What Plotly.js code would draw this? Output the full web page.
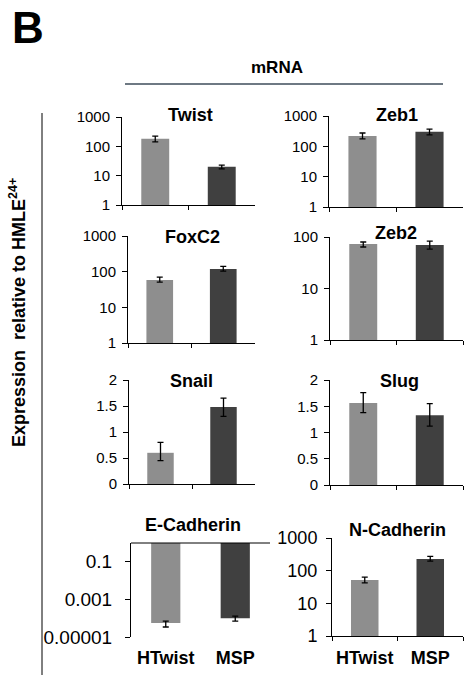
<!DOCTYPE html>
<html><head><meta charset="utf-8">
<script src="https://cdn.plot.ly/plotly-3.0.1.min.js"></script>
<style>html,body{margin:0;padding:0;background:#fff}#c{width:466px;height:675px}</style>
</head><body><div id="c"></div>
<script>
// ---- data ----
const groups = ["HTwist", "MSP"];
const genes = ["Twist", "Zeb1", "FoxC2", "Zeb2", "Snail", "Slug", "E-Cadherin", "N-Cadherin"];
const twistVal = [180, 20],   twistLo = [141, 17],     twistHi = [224, 23];
const zeb1Val = [220, 300],   zeb1Lo = [175, 240],     zeb1Hi = [275, 370];
const foxc2Val = [58, 118],   foxc2Lo = [51, 104],     foxc2Hi = [70, 140];
const zeb2Val = [73, 70],     zeb2Lo = [64, 58],       zeb2Hi = [80, 83];
const snailVal = [0.6, 1.48], snailLo = [0.45, 1.3],   snailHi = [0.8, 1.65];
const slugVal = [1.56, 1.33], slugLo = [1.38, 1.12],   slugHi = [1.76, 1.55];
const ecadVal = [5.6e-5, 1.0e-4], ecadLo = [3.4e-5, 7e-5], ecadHi = [7e-5, 1.3e-4];
const ncadVal = [52, 226],    ncadLo = [42, 196],      ncadHi = [63, 275];
const logTicks = [1, 10, 100, 1000], logText = ["1", "10", "100", "1000"];
const linTicks = [0, 0.5, 1, 1.5, 2], linText = ["0", "0.5", "1", "1.5", "2"];
const ecadTicks = [1e-5, 1e-3, 0.1], ecadText = ["0.00001", "0.001", "0.1"];
const colors = ["#8e8e8e", "#404040"];

// ---- layout helpers ----
const W = 466, H = 675;
const px = v => v / W, py = v => 1 - v / H;
const FONT = "Liberation Sans, Arial, sans-serif";

const panels = [
  {val: twistVal, lo: twistLo, hi: twistHi, dx: [122, 255], dy: [117, 205], log: true, range: [0, 3], tv: logTicks, tt: logText},
  {val: zeb1Val, lo: zeb1Lo, hi: zeb1Hi, dx: [329, 463], dy: [116, 207], log: true, range: [0, 3], tv: logTicks, tt: logText},
  {val: foxc2Val, lo: foxc2Lo, hi: foxc2Hi, dx: [128, 255], dy: [236, 343], log: true, range: [0, 3], tv: logTicks, tt: logText},
  {val: zeb2Val, lo: zeb2Lo, hi: zeb2Hi, dx: [330, 463], dy: [237, 340], log: true, range: [0, 2], tv: logTicks, tt: logText},
  {val: snailVal, lo: snailLo, hi: snailHi, dx: [129, 255], dy: [380, 484], log: false, range: [0, 2], tv: linTicks, tt: linText},
  {val: slugVal, lo: slugLo, hi: slugHi, dx: [330, 463], dy: [380, 485], log: false, range: [0, 2], tv: linTicks, tt: linText},
  {val: ecadVal, lo: ecadLo, hi: ecadHi, dx: [131, 270], dy: [543, 637], log: true, range: [-5, 0], tv: ecadTicks, tt: ecadText, hang: true, labels: true, tsize: 19, tstand: 9},
  {val: ncadVal, lo: ncadLo, hi: ncadHi, dx: [332, 463], dy: [538, 636], log: true, range: [0, 3], tv: logTicks, tt: logText, labels: true, tsize: 18, tstand: 5}
];
const titlePos = [[190, 115], [397, 115], [192, 237], [396, 233], [191, 381], [399, 381], [193, 525], [397, 530]];

const traces = [];
const layout = {
  width: W, height: H, margin: {l: 0, r: 0, t: 0, b: 0},
  paper_bgcolor: "#fff", plot_bgcolor: "rgba(0,0,0,0)",
  showlegend: false, bargap: 0.58,
  font: {family: FONT, color: "#000"},
  annotations: [], shapes: []
};

panels.forEach((p, i) => {
  const n = i + 1, xs = "x" + n, ys = "y" + n;
  traces.push({
    type: "bar", x: groups,
    y: p.hang ? p.val.map(v => v - 1) : p.val,
    base: p.hang ? [1, 1] : undefined,
    marker: {color: colors, line: {width: 0}},
    error_y: {type: "data", symmetric: false,
      array: p.hi.map((h, k) => h - p.val[k]),
      arrayminus: p.lo.map((l, k) => p.val[k] - l),
      color: "#000", thickness: 1.3, width: 3},
    xaxis: xs, yaxis: ys, hoverinfo: "none"
  });
  const xk = "xaxis" + (n === 1 ? "" : n), yk = "yaxis" + (n === 1 ? "" : n);
  layout[xk] = {
    domain: [px(p.dx[0]), px(p.dx[1])], anchor: ys, type: "category",
    range: [-0.5, 1.5], fixedrange: true,
    showline: !p.hang, linecolor: "#000", linewidth: 1,
    ticks: p.hang ? "" : "outside", tickson: "boundaries", ticklen: 4, tickcolor: "#000",
    showticklabels: !!p.labels, ticklabelstandoff: p.hang ? 8 : 5, tickangle: 0,
    tickfont: {family: FONT, size: 18, color: "#000", weight: "bold"},
    showgrid: false, zeroline: false
  };
  layout[yk] = {
    domain: [py(p.dy[1]), py(p.dy[0])], anchor: xs,
    type: p.log ? "log" : "linear", range: p.range, fixedrange: true,
    showline: true, linecolor: "#000", linewidth: 1,
    ticks: "outside", ticklen: 5, tickcolor: "#000",
    tickvals: p.tv, ticktext: p.tt,
    tickfont: {family: FONT, size: p.tsize || 15, color: "#000"},
    ticklabelstandoff: p.tstand || 3,
    showgrid: false, zeroline: false
  };
  if (p.hang) {
    layout.shapes.push({type: "line", xref: "paper", yref: "paper",
      x0: px(p.dx[0]), x1: px(p.dx[1]), y0: py(p.dy[0]), y1: py(p.dy[0]),
      line: {color: "#000", width: 1}});
  }
  layout.annotations.push({text: "<b>" + genes[i] + "</b>", xref: "paper", yref: "paper",
    x: px(titlePos[i][0]), y: py(titlePos[i][1]), xanchor: "center", yanchor: "middle",
    showarrow: false, font: {family: FONT, size: 18, color: "#000"}});
});

layout.annotations.push(
  {text: "<b>B</b>", xref: "paper", yref: "paper", x: px(10), y: py(27), xanchor: "left", yanchor: "middle",
   showarrow: false, font: {family: FONT, size: 44, color: "#000"}},
  {text: "<b>mRNA</b>", xref: "paper", yref: "paper", x: px(277), y: py(67), xanchor: "center", yanchor: "middle",
   showarrow: false, font: {family: FONT, size: 17, color: "#000"}},
  {text: "<b>Expression&nbsp; relative to HMLE<sup>24+</sup></b>", xref: "paper", yref: "paper",
   x: px(17), y: py(313), xanchor: "center", yanchor: "middle", textangle: -90,
   showarrow: false, font: {family: FONT, size: 18, color: "#000"}}
);
layout.shapes.push(
  {type: "line", xref: "paper", yref: "paper", x0: px(125), x1: px(443), y0: py(84), y1: py(84),
   line: {color: "#3e4c5a", width: 1.5}},
  {type: "line", xref: "paper", yref: "paper", x0: px(42), x1: px(42), y0: py(113), y1: py(675),
   line: {color: "#000", width: 1}}
);

Plotly.newPlot("c", traces, layout, {staticPlot: true, displayModeBar: false});
</script></body></html>
